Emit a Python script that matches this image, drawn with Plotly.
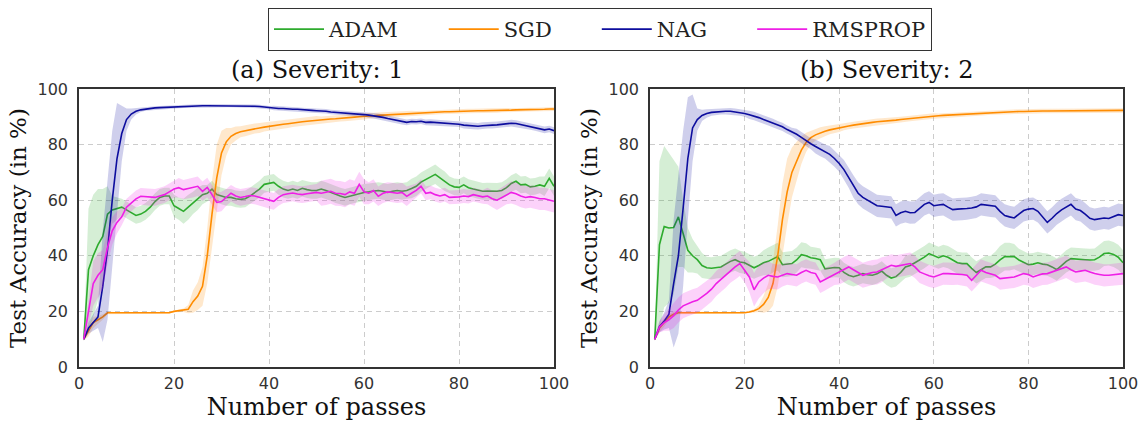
import plotly.graph_objects as go

passes = list(range(1, 101))
optimizers = ["ADAM", "SGD", "NAG", "RMSPROP"]
line_colors = {"ADAM": "#2eab2e", "SGD": "#ff8c00", "NAG": "#0d0d9e", "RMSPROP": "#ee1fe6"}
band_colors = {"ADAM": "rgba(46,171,46,0.2)", "SGD": "rgba(255,140,0,0.2)",
               "NAG": "rgba(13,13,158,0.2)", "RMSPROP": "rgba(238,31,230,0.2)"}
panel_titles = ["(a) Severity: 1", "(b) Severity: 2"]
x_ticks = [0, 20, 40, 60, 80, 100]
y_ticks = [0, 20, 40, 60, 80, 100]

# ---------------- Severity 1 ----------------
s1_adam = [10, 35, 40, 44, 47, 55, 56.5, 57, 57.5, 56.5,
           55.5, 54.5, 55, 56, 57.5, 59.5, 61, 61.5, 61.5, 58,
           57, 56, 57.5, 59, 60.5, 62, 62.5, 64, 62, 61.5,
           61, 61, 60.5, 60.3, 60.5, 61.5, 62.8, 64, 65.7, 66,
           66.4, 65, 64, 63.5, 64, 63.5, 64.3, 63.8, 63.5, 63.5,
           64, 63.5, 62.8, 62, 61.5, 61, 61.5, 62, 62.5, 62.8,
           63, 63.3, 63.5, 63.2, 62.8, 63.2, 63.5, 63.2, 63.5, 64.2,
           65, 66.5, 67.5, 68.5, 69.3, 68, 66.8, 65.5, 64.8, 64.6,
           65.5, 64.5, 64, 63.5, 63.2, 63.3, 63.2, 63.2, 63.5, 64.5,
           66, 66.8, 65.5, 65.7, 64.8, 65, 65.5, 65, 67.9, 65]
s1_adam_std = [0.5, 22, 22, 20, 17, 10, 5, 4, 3, 3,
               3, 3, 3, 3, 3, 3, 3, 3, 3, 4,
               4, 4.5, 4.5, 4, 4, 3.5, 3, 3, 3, 3,
               3, 3, 3, 3, 3, 3, 3, 3, 3, 3,
               3, 3, 3, 3, 3, 3, 3, 3, 3, 3,
               3, 3, 3, 3, 3, 3, 3, 3, 3, 3,
               3, 3, 3, 3, 3, 3, 3, 3, 3, 3.5,
               3.5, 3.5, 3.5, 3.5, 3.5, 3.5, 3.5, 3, 3, 3,
               3, 3, 3, 3, 3, 3, 3, 3, 3, 3,
               3, 3, 3, 3, 3, 3, 3, 3.5, 3.5, 3.5]
s1_sgd = [10, 13, 16, 17, 18, 19.5, 19.5, 19.5, 19.5, 19.5,
          19.5, 19.5, 19.5, 19.5, 19.5, 19.5, 19.5, 19.5, 19.5, 20,
          20.2, 20.4, 20.8, 23.5, 25.5, 29, 40, 55, 68, 77,
          81, 83, 84, 84.6, 85, 85.4, 85.8, 86, 86.3, 86.6,
          86.9, 87.1, 87.3, 87.5, 87.8, 88, 88.2, 88.4, 88.6, 88.8,
          88.9, 89, 89.2, 89.3, 89.5, 89.6, 89.8, 89.9, 90, 90.2,
          90.3, 90.4, 90.5, 90.6, 90.8, 90.9, 90.9, 91, 91.1, 91.2,
          91.3, 91.3, 91.4, 91.5, 91.6, 91.7, 91.8, 91.8, 91.9, 92,
          92, 92.1, 92.1, 92.2, 92.2, 92.2, 92.3, 92.3, 92.4, 92.4,
          92.4, 92.5, 92.5, 92.6, 92.6, 92.6, 92.7, 92.7, 92.8, 92.8]
s1_sgd_std = [0.5, 2, 2, 1.5, 1, 0.5, 0.3, 0.3, 0.3, 0.3,
              0.3, 0.3, 0.3, 0.3, 0.3, 0.3, 0.3, 0.3, 0.3, 0.3,
              0.4, 0.6, 1.5, 4, 5, 7, 10, 12, 12, 8,
              5, 3, 2.5, 2, 2, 2, 1.8, 1.8, 1.6, 1.6,
              1.5, 1.5, 1.5, 1.5, 1.5, 1.5, 1.5, 1.5, 1.5, 1.5,
              1.2, 1.2, 1.2, 1.2, 1.2, 1.2, 1.2, 1.2, 1.2, 1.2,
              1, 1, 1, 1, 1, 1, 1, 1, 1, 1,
              0.8, 0.8, 0.8, 0.8, 0.8, 0.8, 0.8, 0.8, 0.8, 0.8,
              0.8, 0.8, 0.8, 0.8, 0.8, 0.8, 0.8, 0.8, 0.8, 0.8,
              0.7, 0.7, 0.7, 0.7, 0.7, 0.7, 0.7, 0.7, 0.7, 0.7]
s1_nag = [10, 14, 16, 18, 29, 42, 60, 75, 84, 89,
          91, 92, 92.5, 92.8, 93, 93.2, 93.3, 93.4, 93.5, 93.6,
          93.7, 93.8, 93.8, 93.9, 94, 94, 94, 94, 94, 94,
          94, 94, 94, 94, 93.9, 93.9, 93.8, 93.7, 93.5, 93.3,
          93.2, 93, 93, 92.8, 92.7, 92.7, 92.5, 92.4, 92.3, 92.2,
          92.2, 92, 91.7, 91.6, 91.5, 91.4, 91.2, 91, 90.9, 90.8,
          90.6, 90.4, 90.2, 89.8, 89.4, 89, 88.6, 88.2, 88, 88.3,
          88.2, 88.4, 88, 88.1, 88, 87.8, 87.7, 87.5, 87.4, 87.3,
          87, 86.8, 86.7, 86.6, 86.8, 87, 87, 87.1, 87.3, 87.5,
          87.7, 87.6, 87.2, 86.8, 86.5, 86.2, 85.8, 85.3, 85.6, 85]
s1_nag_std = [0.5, 2, 3, 4, 20, 25, 25, 20, 10, 4,
              2, 1.2, 0.8, 0.6, 0.6, 0.6, 0.6, 0.6, 0.6, 0.6,
              0.6, 0.6, 0.6, 0.6, 0.6, 0.6, 0.6, 0.6, 0.6, 0.6,
              0.6, 0.6, 0.6, 0.6, 0.6, 0.6, 0.6, 0.6, 0.6, 0.6,
              0.8, 0.8, 0.8, 0.8, 0.8, 0.8, 0.8, 0.8, 0.8, 0.8,
              0.8, 0.8, 0.8, 0.8, 0.8, 0.8, 0.8, 0.8, 0.8, 0.8,
              1, 1, 1, 1, 1, 1, 1, 1, 1, 1,
              1, 1, 1, 1, 1, 1, 1, 1, 1, 1,
              1.2, 1.2, 1.2, 1.2, 1.2, 1.2, 1.2, 1.2, 1.2, 1.2,
              1.2, 1.2, 1.2, 1.2, 1.2, 1.2, 1.2, 1.2, 1.2, 1.2]
s1_rms = [10, 20, 30, 33, 35, 43, 49, 52, 54, 57.5,
          59, 60.5, 61.4, 61.3, 61, 61, 61.5, 62, 63, 64,
          64.5, 63.8, 64.2, 64.5, 65, 63.2, 64.6, 62, 59.2, 59.5,
          61, 62.5, 61.5, 61, 61.3, 61.7, 61.5, 61, 60.5, 60,
          59.6, 61, 62, 62.3, 62.6, 62.2, 62, 62.3, 62.6, 62.8,
          62.5, 62.8, 63.2, 62.5, 62.4, 62, 63, 62.5, 65.7, 63,
          62.5, 63.5, 61.4, 62.5, 63, 62.8, 62.5, 62.8, 61.4, 62.5,
          63.5, 65, 62.5, 62.8, 62, 61.5, 62, 61, 61, 61.2,
          61.5, 61.3, 62, 61.5, 61.2, 61.5, 60.5, 60, 61, 62,
          62.8, 62.3, 61.5, 61, 61.3, 61, 60.5, 60.5, 60, 59.6]
s1_rms_std = [0.5, 5, 8, 8, 7, 6, 5, 4, 3, 3,
              3, 3, 3, 3, 3, 3, 3, 3, 3, 3,
              3.5, 3.5, 3.5, 3.5, 3.5, 3.5, 3.5, 3.5, 3.5, 3.5,
              3, 3, 3, 3, 3, 3, 3, 3, 3, 3,
              3, 3, 3, 3, 3, 3, 3, 3, 3, 3,
              4.5, 4.5, 4.5, 4.5, 4.5, 4.5, 4.5, 4.5, 4.5, 4.5,
              4, 4, 3.5, 3.5, 3.5, 3.5, 3.5, 3.5, 3.5, 3,
              2.5, 2.5, 2.5, 2.5, 2.5, 2.5, 2.5, 2.5, 2.5, 2.5,
              2.5, 2.5, 2.5, 2.5, 2.5, 3, 3, 3.5, 3.5, 3.5,
              4, 4, 4, 4, 4, 4, 4, 4, 4, 4]

# ---------------- Severity 2 ----------------
s2_adam = [10, 44, 50.5, 50, 50.2, 54, 48, 42, 40, 38.6,
           36.5, 35.7, 35.5, 35.8, 36, 37, 38, 38.6, 37.8, 37.5,
           36.5, 35.7, 36.5, 37.5, 38, 39, 39.7, 36.8, 37, 37.2,
           38.5, 40.4, 40, 39.3, 39, 38.6, 35.3, 35.5, 35.8, 35.7,
           34, 33, 32.5, 33, 33.6, 33.2, 33, 33.5, 34.5, 33,
           32, 32.5, 34, 36, 36.5, 37.5, 38.4, 39.5, 40.8, 40,
           39.3, 40, 39.5, 38.5, 37.5, 37.2, 37.2, 35.5, 34, 35,
           36, 36, 37, 38.5, 39.7, 39.7, 39.7, 38.5, 37.5, 36.8,
           37, 37.5, 37, 36.8, 36, 35, 36.5, 38, 39, 38.8,
           38.6, 38.6, 38.5, 38.6, 39.5, 40.8, 41, 40.5, 39.5, 37.5]
s2_adam_std = [0.5, 30, 29, 27, 24, 18, 12, 8, 6, 5,
               4.5, 4, 4, 4, 4, 4, 4, 4, 4, 4,
               4, 4, 4, 4.5, 5, 5, 5, 4.5, 4.5, 4.5,
               4.5, 4.5, 4.5, 4, 4, 4, 3.5, 3.5, 3.5, 3.5,
               3.5, 3.5, 3.5, 3.5, 3.5, 3.5, 3.5, 3.5, 3.5, 3.5,
               3.5, 3.5, 3.5, 4, 4, 4, 4, 4, 4, 4,
               4, 4, 4, 4, 4, 4, 4, 4, 4, 4,
               4, 4, 4.5, 5, 5, 5, 4.5, 4, 4, 4,
               4, 4, 4, 4, 4, 4, 4, 4, 4, 4,
               4, 4, 4, 4, 4.5, 4.5, 4.5, 4.5, 4.5, 4.5]
s2_sgd = [10, 14, 16, 18, 19, 19.5, 19.5, 19.5, 19.5, 19.5,
          19.5, 19.5, 19.5, 19.5, 19.5, 19.5, 19.5, 19.5, 19.5, 19.5,
          19.8, 20.2, 21, 22.5, 25, 30, 40, 53, 63, 70,
          74, 78, 80.8, 82.5, 83.5, 84.2, 84.8, 85.3, 85.7, 86,
          86.4, 86.7, 87, 87.3, 87.5, 87.8, 88, 88.2, 88.3, 88.4,
          88.6, 88.8, 89, 89.2, 89.4, 89.6, 89.8, 90, 90.1, 90.3,
          90.4, 90.5, 90.6, 90.7, 90.8, 90.9, 91, 91.1, 91.2, 91.3,
          91.4, 91.5, 91.5, 91.6, 91.7, 91.7, 91.8, 91.9, 91.9, 92,
          92, 92, 92.1, 92.1, 92.1, 92.2, 92.2, 92.2, 92.2, 92.3,
          92.3, 92.3, 92.3, 92.3, 92.3, 92.3, 92.3, 92.3, 92.3, 92.3]
s2_sgd_std = [0.5, 1.5, 1.5, 1, 1, 0.5, 0.3, 0.3, 0.3, 0.3,
              0.3, 0.3, 0.3, 0.3, 0.3, 0.3, 0.3, 0.3, 0.3, 0.3,
              0.4, 0.6, 1.2, 3, 5, 8, 11, 13, 12, 9,
              7, 5, 3.5, 2.5, 2, 2, 1.8, 1.6, 1.5, 1.5,
              1.2, 1.2, 1.2, 1.2, 1.2, 1.2, 1.2, 1.2, 1.2, 1.2,
              1, 1, 1, 1, 1, 1, 1, 1, 1, 1,
              0.8, 0.8, 0.8, 0.8, 0.8, 0.8, 0.8, 0.8, 0.8, 0.8,
              0.8, 0.8, 0.8, 0.8, 0.8, 0.8, 0.8, 0.8, 0.8, 0.8,
              0.8, 0.8, 0.8, 0.8, 0.8, 0.8, 0.8, 0.8, 0.8, 0.8,
              0.8, 0.8, 0.8, 0.8, 0.8, 0.8, 0.8, 0.8, 0.8, 0.8]
s2_nag = [10, 14.5, 16.5, 19, 30, 40, 57, 75, 86, 89,
          90.5, 91.2, 91.6, 91.8, 92, 92, 92, 91.8, 91.6, 91.2,
          90.7, 90.3, 89.7, 89, 88.4, 87.8, 87, 86.4, 85.4, 84.6,
          83.7, 82.6, 81.3, 80.3, 79.3, 78.3, 77.5, 76.5, 75, 73.2,
          71, 68, 65, 62.5, 61, 60, 59, 58, 57.8, 57.5,
          57.4, 54.5, 55.5, 56, 55.5, 55.6, 57, 58.5, 59.2, 58,
          58.3, 58.5, 57.5, 56.6, 56.8, 56.8, 57, 57.2, 57.6, 58.5,
          58.2, 58, 57.8, 56, 54.5, 54, 53.6, 55, 56.3, 56.8,
          57, 56, 54, 52, 53.5, 55.2, 56.5, 57.5, 58.5, 56.8,
          56.3, 55, 53.5, 53, 53.2, 53.6, 53.4, 54, 54.8, 54.5]
s2_nag_std = [0.5, 2, 3, 5, 23, 28, 28, 22, 12, 4,
              2, 1.5, 1.2, 1.2, 1.2, 1.2, 1.2, 1.2, 1.2, 1.2,
              1.5, 1.5, 1.5, 1.5, 1.5, 1.5, 1.5, 1.5, 1.5, 1.5,
              2, 2, 2, 2, 2.5, 2.5, 2.5, 3, 3, 3,
              3.5, 3.5, 4, 4, 4, 4, 4, 4, 4, 4,
              4, 4, 4, 4, 4, 4, 4, 4, 4, 4,
              4, 4, 4, 4, 4, 4, 4, 4, 4, 4,
              4, 4, 4, 4, 4, 4, 4, 4, 4, 4,
              4, 4, 4, 4, 4, 4, 4, 4, 4, 4,
              4, 4, 4, 4, 4, 4, 4, 4, 4, 4]
s2_rms = [10, 14.4, 16, 17, 18.5, 20.5, 22, 22.8, 23.5, 24,
          25.2, 26.5, 28, 30, 31.5, 33, 34.8, 36, 37.2, 35,
          32.4, 27.8, 30.6, 32, 33, 32.6, 32.4, 33, 33.6, 33.3,
          33, 34, 34.8, 34, 33.6, 30.6, 31.5, 32.4, 33.5, 34.2,
          35, 36, 35, 34, 33, 33.5, 34, 34.2, 35, 35.8,
          36.6, 36.2, 36.6, 36.8, 37.2, 36, 34.2, 33.5, 32.8, 32.4,
          33, 33.6, 33.6, 33.5, 33.6, 33.3, 33, 31.2, 33, 34.8,
          34, 33.6, 33, 31.8, 32, 32.2, 32.4, 33, 33.6, 33.3,
          32.4, 33, 33.5, 33.6, 34.2, 34.8, 35.4, 36, 35, 34.2,
          34.5, 34.8, 34.2, 33.6, 33.3, 33, 33, 33.2, 33.4, 33.6]
s2_rms_std = [0.5, 2, 3, 4, 4.5, 4.5, 4.5, 4.5, 4.5, 4.5,
              4.5, 4.5, 4.5, 4.5, 4.5, 4.5, 4.5, 4.5, 4.5, 4.5,
              5.5, 6, 6, 5.5, 5, 4.5, 4.5, 4, 4, 4,
              4, 4, 4, 4, 4, 4, 4, 4, 4, 4.5,
              4.5, 4.5, 4.5, 4.5, 4.5, 4.5, 4.5, 4.5, 4.5, 4,
              4, 4, 4, 4, 4, 4, 4, 4, 4, 4,
              4, 4, 4, 4, 4, 4, 4, 4, 4, 4,
              4, 4, 4, 4, 4, 4, 4, 4, 4, 4,
              4, 4, 4, 4, 4, 4, 4, 4, 4, 4,
              4, 4, 4, 4, 4, 4, 4, 4, 4, 4]

panels = [
    {"ADAM": (s1_adam, s1_adam_std), "SGD": (s1_sgd, s1_sgd_std),
     "NAG": (s1_nag, s1_nag_std), "RMSPROP": (s1_rms, s1_rms_std)},
    {"ADAM": (s2_adam, s2_adam_std), "SGD": (s2_sgd, s2_sgd_std),
     "NAG": (s2_nag, s2_nag_std), "RMSPROP": (s2_rms, s2_rms_std)},
]

SERIF = "DejaVu Serif"
SANS = "DejaVu Sans"
PAD = "\u00a0" * 6

fig = go.Figure()
for p, data in enumerate(panels):
    xa = "x" if p == 0 else "x2"
    ya = "y" if p == 0 else "y2"
    for name in optimizers:
        mean, std = data[name]
        upper = [m + s for m, s in zip(mean, std)]
        lower = [m - s for m, s in zip(mean, std)]
        fig.add_trace(go.Scatter(
            x=passes + passes[::-1], y=upper + lower[::-1],
            fill="toself", fillcolor=band_colors[name], line=dict(width=0),
            mode="lines", hoverinfo="skip", showlegend=False,
            xaxis=xa, yaxis=ya))
        label = name if name == optimizers[-1] else name + PAD
        fig.add_trace(go.Scatter(
            x=passes, y=mean, mode="lines", name=label,
            line=dict(color=line_colors[name], width=1.6),
            showlegend=(p == 0),
            xaxis=xa, yaxis=ya))

W, H = 1144, 421
dom_left = [79 / W, 554 / W]
dom_right = [650 / W, 1123 / W]
dom_y = [1 - 367 / H, 1 - 89 / H]

axis_common = dict(
    range=[0, 100], showline=True, mirror=True, linecolor="#333333", linewidth=1.5,
    showgrid=True, gridcolor="#cccccc", griddash="5px,4px", gridwidth=1,
    zeroline=False, ticks="outside", tickcolor="rgba(0,0,0,0)",
    tickfont=dict(family=SANS, size=16, color="#333333"), automargin=False,
)
xcommon = dict(axis_common, tickvals=x_ticks, ticklen=1,
               title=dict(text="Number of passes", font=dict(family=SERIF, size=24, color="#111111"), standoff=10))
ycommon = dict(axis_common, tickvals=y_ticks, ticklen=6,
               title=dict(text="Test Accuracy (in %)", font=dict(family=SERIF, size=23, color="#111111"), standoff=4))

fig.update_layout(
    width=W, height=H, margin=dict(l=0, r=0, t=0, b=0, autoexpand=False),
    plot_bgcolor="white", paper_bgcolor="white",
    xaxis=dict(xcommon, domain=dom_left, anchor="y"),
    yaxis=dict(ycommon, domain=dom_y, anchor="x"),
    xaxis2=dict(xcommon, domain=dom_right, anchor="y2"),
    yaxis2=dict(ycommon, domain=dom_y, anchor="x2"),
    legend=dict(orientation="h", x=600 / W, xanchor="center", y=1 - 8 / H, yanchor="top",
                font=dict(family=SERIF, size=21, color="#222222"),
                bordercolor="#333333", borderwidth=1, bgcolor="white",
                itemwidth=50, traceorder="normal"),
    showlegend=True,
)
for p, t in enumerate(panel_titles):
    sfx = "" if p == 0 else "2"
    fig.add_annotation(text=t, x=0.5, xref=f"x{sfx} domain", y=1, yref=f"y{sfx} domain",
                       xanchor="center", yanchor="bottom", yshift=3, showarrow=False,
                       font=dict(family=SERIF, size=24, color="#111111"))

fig.write_html("out.html")
